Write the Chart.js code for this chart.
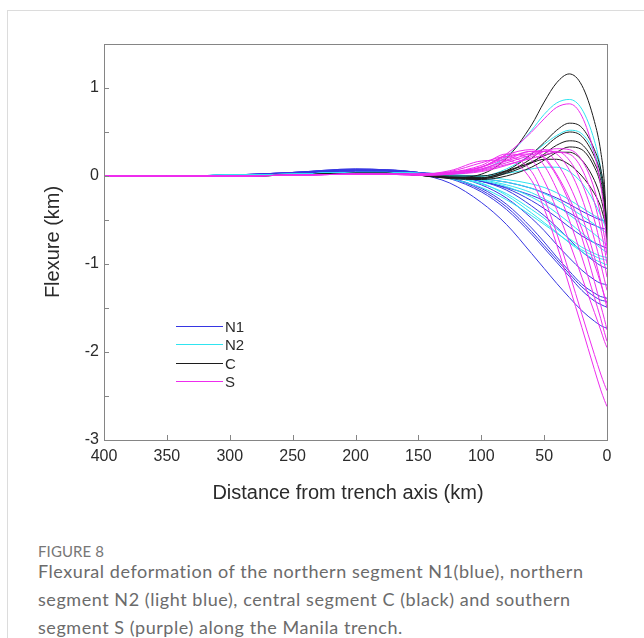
<!DOCTYPE html>
<html>
<head>
<meta charset="utf-8">
<script src="https://cdn.jsdelivr.net/npm/chart.js@4.4.1/dist/chart.umd.min.js"></script>
<style>
  html, body { margin: 0; padding: 0; background: #fff; overflow: hidden; }
  body { width: 644px; height: 638px; position: relative; }
  .card { position: absolute; left: 7px; top: 10px; width: 700px; height: 700px; border: 1px solid #dcdcdc; }
  #chart { position: absolute; left: 0; top: 0; }
  .fig-label { position: absolute; left: 38px; top: 544px; font: 15px/15px Lato, "Open Sans", sans-serif; color: #777; letter-spacing: 0.1px; }
  .caption { position: absolute; left: 38px; top: 557px; font: 18px/28px Lato, "Open Sans", sans-serif; color: #6b6b6b; white-space: nowrap; letter-spacing: 0.55px; }
</style>
</head>
<body>
<div class="card"></div>
<canvas id="chart" width="644" height="510"></canvas>
<div class="fig-label">FIGURE 8</div>
<div class="caption">Flexural deformation of the northern segment N1(blue), northern<br>segment N2 (light blue), central segment C (black) and southern<br>segment S (purple) along the Manila trench.</div>
<script>
// distance from trench axis (km), sample positions of every profile
const distancia = [400, 350, 300, 250, 200, 175, 150, 125, 100, 80, 60, 50, 40, 30, 20, 10, 5, 2, 0];

// flexure (km), one row per profile
const perfisN1 = [
  [0, 0, 0.01, 0.04, 0.07, 0.06, 0.02, -0.08, -0.3, -0.55, -0.88, -1.05, -1.22, -1.38, -1.53, -1.65, -1.7, -1.72, -1.73],
  [0, 0, 0.01, 0.04, 0.08, 0.07, 0.04, -0.03, -0.18, -0.38, -0.66, -0.82, -0.98, -1.14, -1.3, -1.42, -1.46, -1.48, -1.49],
  [0, 0, 0.01, 0.04, 0.08, 0.07, 0.04, -0.02, -0.16, -0.35, -0.63, -0.79, -0.95, -1.11, -1.26, -1.37, -1.41, -1.42, -1.43],
  [0, 0, 0.01, 0.04, 0.07, 0.07, 0.04, -0.02, -0.14, -0.32, -0.59, -0.75, -0.92, -1.08, -1.23, -1.33, -1.37, -1.38, -1.39],
  [0, 0, 0.01, 0.03, 0.07, 0.06, 0.04, 0.0, -0.1, -0.25, -0.48, -0.62, -0.78, -0.93, -1.07, -1.18, -1.22, -1.23, -1.24],
  [0, 0, 0.01, 0.03, 0.06, 0.06, 0.04, 0.01, -0.06, -0.16, -0.34, -0.45, -0.58, -0.72, -0.86, -0.97, -1.02, -1.04, -1.05],
  [0, 0, 0.01, 0.03, 0.06, 0.05, 0.03, 0.0, -0.06, -0.13, -0.22, -0.28, -0.35, -0.42, -0.5, -0.56, -0.59, -0.6, -0.61],
  [0, 0, 0.01, 0.03, 0.05, 0.05, 0.03, 0.01, -0.03, -0.07, -0.14, -0.19, -0.25, -0.32, -0.4, -0.47, -0.5, -0.51, -0.52],
  [0, 0, 0.01, 0.03, 0.06, 0.05, 0.03, 0.0, -0.06, -0.14, -0.28, -0.37, -0.47, -0.58, -0.68, -0.76, -0.79, -0.81, -0.82]
];

const perfisN2 = [
  [0, 0, 0.01, 0.02, 0.04, 0.04, 0.03, 0.03, 0.07, 0.22, 0.52, 0.7, 0.83, 0.87, 0.76, 0.4, 0.08, -0.25, -0.6],
  [0, 0, 0.01, 0.02, 0.04, 0.04, 0.02, 0.0, 0.0, 0.08, 0.25, 0.36, 0.46, 0.52, 0.48, 0.26, 0.02, -0.28, -0.62],
  [0, 0, 0.01, 0.02, 0.04, 0.04, 0.03, 0.01, 0.0, 0.03, 0.08, 0.1, 0.1, 0.05, -0.08, -0.3, -0.45, -0.55, -0.62],
  [0, 0, 0.01, 0.02, 0.04, 0.04, 0.02, -0.03, -0.13, -0.27, -0.45, -0.55, -0.65, -0.75, -0.84, -0.91, -0.94, -0.95, -0.96],
  [0, 0, 0.01, 0.02, 0.04, 0.04, 0.02, -0.01, -0.09, -0.2, -0.38, -0.48, -0.6, -0.71, -0.81, -0.88, -0.91, -0.92, -0.93],
  [0, 0, 0.01, 0.02, 0.04, 0.04, 0.03, 0.0, -0.05, -0.12, -0.24, -0.32, -0.42, -0.53, -0.65, -0.76, -0.82, -0.85, -0.87],
  [0, 0, 0.01, 0.02, 0.04, 0.04, 0.03, 0.01, -0.03, -0.07, -0.14, -0.2, -0.27, -0.36, -0.45, -0.55, -0.6, -0.63, -0.65],
  [0, 0, 0.01, 0.02, 0.04, 0.04, 0.03, 0.02, -0.01, -0.04, -0.09, -0.13, -0.19, -0.27, -0.36, -0.45, -0.49, -0.51, -0.52],
  [0, 0, 0.01, 0.02, 0.04, 0.04, 0.02, -0.02, -0.08, -0.22, -0.42, -0.53, -0.64, -0.76, -0.86, -0.95, -0.98, -1.0, -1.01],
  [0, 0, 0.01, 0.02, 0.04, 0.04, 0.03, 0.01, -0.04, -0.1, -0.19, -0.26, -0.34, -0.44, -0.55, -0.66, -0.72, -0.76, -0.78]
];

const perfisC = [
  [0, 0, 0, 0.01, 0.03, 0.03, 0.01, -0.02, 0.02, 0.2, 0.58, 0.84, 1.06, 1.16, 1.03, 0.62, 0.28, -0.1, -0.7],
  [0, 0, 0, 0.01, 0.03, 0.03, 0.01, -0.02, -0.02, 0.06, 0.25, 0.38, 0.52, 0.6, 0.55, 0.3, 0.08, -0.2, -0.65],
  [0, 0, 0, 0.01, 0.03, 0.03, 0.01, -0.02, -0.03, 0.04, 0.2, 0.32, 0.44, 0.5, 0.45, 0.22, 0.02, -0.25, -0.68],
  [0, 0, 0, 0.01, 0.03, 0.03, 0.01, -0.02, -0.03, 0.03, 0.15, 0.25, 0.35, 0.4, 0.36, 0.15, -0.05, -0.3, -0.72],
  [0, 0, 0, 0.01, 0.03, 0.03, 0.01, -0.03, -0.04, 0.0, 0.1, 0.18, 0.27, 0.33, 0.3, 0.1, -0.1, -0.35, -0.7],
  [0, 0, 0, 0.01, 0.03, 0.03, 0.01, -0.01, -0.02, 0.05, 0.16, 0.23, 0.27, 0.27, 0.18, -0.05, -0.25, -0.45, -0.75],
  [0, 0, 0, 0.01, 0.03, 0.03, 0.01, 0.0, 0.0, 0.06, 0.15, 0.19, 0.19, 0.13, 0.0, -0.2, -0.35, -0.5, -0.6]
];

const perfisS = [
  [0, 0, 0, 0.01, 0.02, 0.02, 0.01, 0.02, 0.1, 0.25, 0.5, 0.65, 0.78, 0.82, 0.68, 0.25, -0.1, -0.45, -0.85],
  [0, 0, 0, 0.01, 0.02, 0.02, 0.02, 0.06, 0.17, 0.18, -0.05, -0.37, -0.78, -1.25, -1.72, -2.2, -2.43, -2.55, -2.62],
  [0, 0, 0, 0.01, 0.02, 0.02, 0.02, 0.05, 0.15, 0.22, 0.05, -0.25, -0.65, -1.1, -1.57, -2.03, -2.25, -2.37, -2.44],
  [0, 0, 0, 0.01, 0.02, 0.02, 0.02, 0.04, 0.12, 0.25, 0.18, -0.05, -0.38, -0.75, -1.15, -1.55, -1.75, -1.88, -1.95],
  [0, 0, 0, 0.01, 0.02, 0.02, 0.02, 0.04, 0.1, 0.22, 0.25, 0.12, -0.15, -0.5, -0.92, -1.38, -1.62, -1.78, -1.88],
  [0, 0, 0, 0.01, 0.02, 0.02, 0.02, 0.04, 0.1, 0.2, 0.28, 0.2, 0.0, -0.3, -0.7, -1.2, -1.47, -1.63, -1.75],
  [0, 0, 0, 0.01, 0.02, 0.02, 0.02, 0.03, 0.08, 0.18, 0.28, 0.28, 0.15, -0.1, -0.45, -0.92, -1.2, -1.38, -1.5],
  [0, 0, 0, 0.01, 0.02, 0.02, 0.02, 0.03, 0.08, 0.17, 0.26, 0.3, 0.25, 0.07, -0.25, -0.72, -1.0, -1.18, -1.3],
  [0, 0, 0, 0.01, 0.02, 0.02, 0.01, 0.03, 0.07, 0.15, 0.24, 0.28, 0.28, 0.18, -0.08, -0.5, -0.8, -1.0, -1.15],
  [0, 0, 0, 0.01, 0.02, 0.02, 0.01, 0.02, 0.06, 0.13, 0.2, 0.24, 0.27, 0.25, 0.08, -0.3, -0.6, -0.82, -1.0],
  [0, 0, 0, 0.01, 0.02, 0.02, 0.02, 0.04, 0.1, 0.24, 0.3, 0.22, 0.02, -0.25, -0.6, -1.0, -1.22, -1.36, -1.45],
  [0, 0, 0, 0.01, 0.02, 0.02, 0.01, 0.02, 0.05, 0.12, 0.22, 0.28, 0.31, 0.3, 0.18, -0.15, -0.45, -0.7, -0.9]
];

const xTicks = [400, 350, 300, 250, 200, 150, 100, 50, 0];
const yTicks = [1, 0, -1, -2, -3];

// segmentos: ordem da legenda
const segmentos = [
  { nome: 'N1', cor: '#3636e2', perfis: perfisN1 },
  { nome: 'N2', cor: '#2fe4f0', perfis: perfisN2 },
  { nome: 'C', cor: '#1c1c1c', perfis: perfisC },
  { nome: 'S', cor: '#ee2cee', perfis: perfisS }
];

// dataset 0 fica por cima no Chart.js, então S entra primeiro
const datasets = [];
segmentos.slice().reverse().forEach(seg => {
  seg.perfis.forEach(linha => {
    datasets.push({
      label: seg.nome,
      data: linha.map((v, i) => ({ x: distancia[i], y: v })),
      borderColor: seg.cor,
      borderWidth: 1,
      pointRadius: 0,
      fill: false,
      cubicInterpolationMode: 'monotone'
    });
  });
});

const corEixo = '#858585';
const corTexto = '#2b2b2b';
const fonteEixo = '"Liberation Sans", Arial, sans-serif';

// moldura, ticks para dentro e título do eixo x
const molduraPlugin = {
  id: 'moldura',
  afterDraw(chart) {
    const { ctx, chartArea: a, scales } = chart;
    ctx.save();
    ctx.strokeStyle = corEixo;
    ctx.lineWidth = 1;
    ctx.strokeRect(Math.round(a.left) + 0.5, Math.round(a.top) + 0.5, Math.round(a.right - a.left), Math.round(a.bottom - a.top));
    ctx.beginPath();
    scales.x.ticks.forEach(t => {
      if (t.value === 0 || t.value === 400) return;
      const px = Math.round(scales.x.getPixelForValue(t.value)) + 0.5;
      ctx.moveTo(px, a.bottom);
      ctx.lineTo(px, a.bottom - 5);
    });
    scales.y.ticks.forEach(t => {
      if (t.value <= -3 || t.value >= 1.5) return;
      const py = Math.round(scales.y.getPixelForValue(t.value)) + 0.5;
      ctx.moveTo(a.left, py);
      ctx.lineTo(a.left + 5, py);
    });
    ctx.stroke();

    ctx.fillStyle = corTexto;
    ctx.font = '20px ' + fonteEixo;
    ctx.textAlign = 'center';
    ctx.textBaseline = 'middle';
    ctx.fillText('Distance from trench axis (km)', 348, 493);
    ctx.restore();
  }
};

// legenda dentro do gráfico
const legendaPlugin = {
  id: 'legendaInterna',
  afterDraw(chart) {
    const { ctx } = chart;
    ctx.save();
    ctx.font = '15px ' + fonteEixo;
    ctx.textBaseline = 'middle';
    ctx.textAlign = 'left';
    segmentos.forEach((seg, i) => {
      const y = Math.round(326 + i * 18.3) + 0.5;
      ctx.strokeStyle = seg.cor;
      ctx.lineWidth = 1;
      ctx.beginPath();
      ctx.moveTo(176, y);
      ctx.lineTo(223, y);
      ctx.stroke();
      ctx.fillStyle = corTexto;
      ctx.fillText(seg.nome, 225, y + 1);
    });
    ctx.restore();
  }
};

new Chart(document.getElementById('chart'), {
  type: 'line',
  data: { datasets },
  options: {
    responsive: false,
    animation: false,
    devicePixelRatio: 1,
    layout: { padding: { top: 44, right: 37, left: 0, bottom: 0 } },
    plugins: { legend: { display: false }, tooltip: { enabled: false } },
    scales: {
      x: {
        type: 'linear',
        reverse: true,
        min: 0,
        max: 400,
        afterBuildTicks: s => { s.ticks = xTicks.map(v => ({ value: v })); },
        ticks: {
          color: corTexto,
          padding: 7,
          maxRotation: 0,
          autoSkip: false,
          font: { family: fonteEixo, size: 16 }
        },
        grid: { display: false, drawTicks: false },
        border: { display: false },
        afterFit: s => { s.height = 70; }
      },
      y: {
        type: 'linear',
        min: -3,
        max: 1.5,
        afterBuildTicks: s => {
          s.ticks = [1.5, 1, 0.5, 0, -0.5, -1, -1.5, -2, -2.5, -3].map(v => ({ value: v }));
        },
        ticks: {
          color: corTexto,
          padding: 5,
          autoSkip: false,
          font: { family: fonteEixo, size: 16 },
          callback: v => yTicks.includes(v) ? String(v) : ''
        },
        grid: { display: false, drawTicks: false },
        border: { display: false },
        title: {
          display: true,
          text: 'Flexure (km)',
          color: corTexto,
          padding: { top: 41, bottom: 0 },
          font: { family: fonteEixo, size: 20 }
        },
        afterFit: s => { s.width = 104; }
      }
    }
  },
  plugins: [molduraPlugin, legendaPlugin]
});
</script>
</body>
</html>
